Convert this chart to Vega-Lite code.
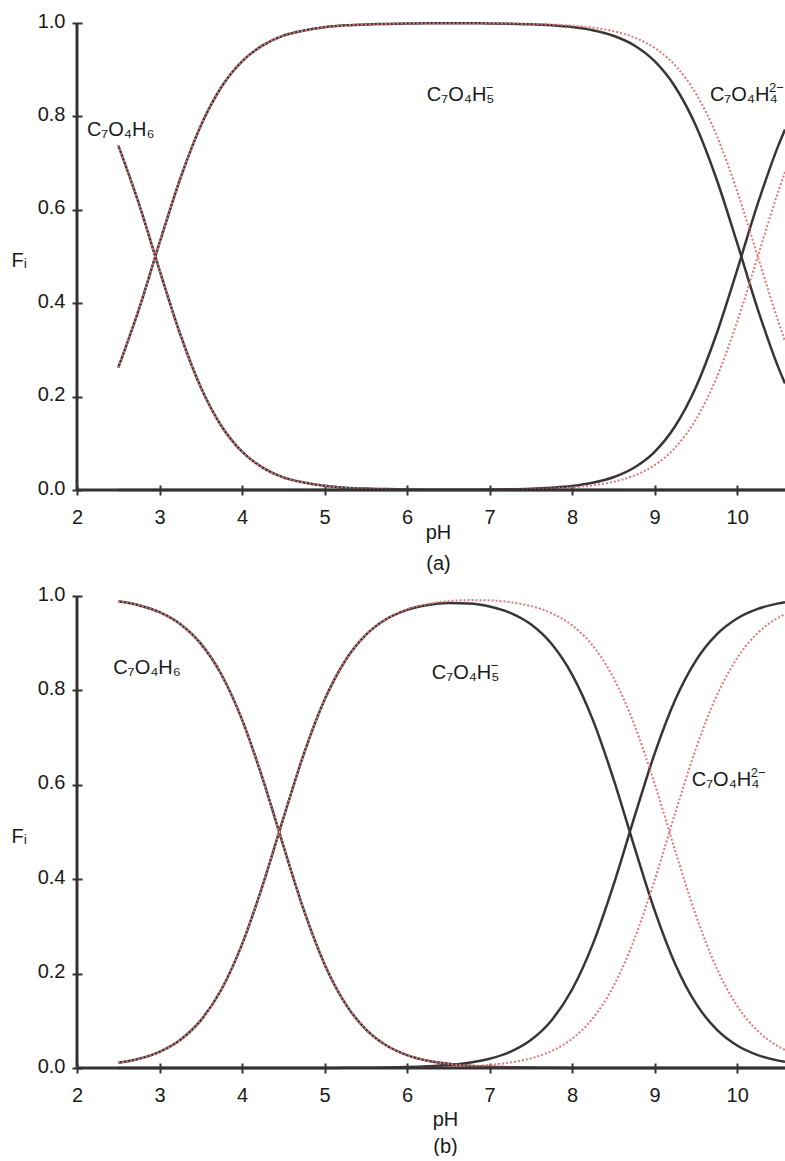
{
  "$schema": "https://vega.github.io/schema/vega-lite/v6.json",
  "background": "white",
  "padding": {"left": 11, "top": 11, "right": 0, "bottom": 0},
  "config": {
    "view": {"stroke": null},
    "font": "Liberation Sans",
    "axis": {
      "domain": false, "grid": false, "ticks": true, "tickSize": 10, "tickWidth": 2, "tickColor": "#333333",
      "offset": -5, "labelFont": "Liberation Sans", "labelFontSize": 20, "labelColor": "#1a1a1a",
      "titleFont": "Liberation Sans", "titleFontSize": 20, "titleFontWeight": "normal", "titleColor": "#1a1a1a",
      "labelFlush": false, "labelOverlap": false
    },
    "axisX": {"labelPadding": 12.5, "titleAlign": "center", "titleBaseline": "alphabetic"},
    "axisY": {"labelPadding": 7, "labelOffset": -2, "titleAngle": 0, "titleAlign": "left", "titleBaseline": "alphabetic", "titleX": -71}
  },
  "datasets": {
    "a": [
      {"ph": 2.5, "h2a": 0.738, "hab": 0.262, "ab": 0, "har": 0.262, "ar": 0},
      {"ph": 2.75, "h2a": 0.613, "hab": 0.387, "ab": 0, "har": 0.387, "ar": 0},
      {"ph": 3.0, "h2a": 0.471, "hab": 0.529, "ab": 0, "har": 0.529, "ar": 0},
      {"ph": 3.25, "h2a": 0.334, "hab": 0.666, "ab": 0, "har": 0.666, "ar": 0},
      {"ph": 3.5, "h2a": 0.22, "hab": 0.78, "ab": 0, "har": 0.78, "ar": 0},
      {"ph": 3.75, "h2a": 0.137, "hab": 0.863, "ab": 0, "har": 0.863, "ar": 0},
      {"ph": 4.0, "h2a": 0.082, "hab": 0.918, "ab": 0, "har": 0.918, "ar": 0},
      {"ph": 4.25, "h2a": 0.048, "hab": 0.952, "ab": 0, "har": 0.952, "ar": 0},
      {"ph": 4.5, "h2a": 0.027, "hab": 0.973, "ab": 0, "har": 0.973, "ar": 0},
      {"ph": 4.75, "h2a": 0.016, "hab": 0.984, "ab": 0, "har": 0.984, "ar": 0},
      {"ph": 5.0, "h2a": 0.009, "hab": 0.991, "ab": 0, "har": 0.991, "ar": 0},
      {"ph": 5.25, "h2a": 0.005, "hab": 0.995, "ab": 0, "har": 0.995, "ar": 0},
      {"ph": 5.5, "h2a": 0.003, "hab": 0.997, "ab": 0, "har": 0.997, "ar": 0},
      {"ph": 5.75, "h2a": 0.002, "hab": 0.998, "ab": 0, "har": 0.998, "ar": 0},
      {"ph": 6.0, "h2a": 0.001, "hab": 0.999, "ab": 0, "har": 0.999, "ar": 0},
      {"ph": 6.25, "h2a": 0.0005, "hab": 0.9995, "ab": 0, "har": 0.9995, "ar": 0},
      {"ph": 6.5, "h2a": 0.0003, "hab": 0.9995, "ab": 0.0002, "har": 0.9996, "ar": 0.0001},
      {"ph": 6.75, "h2a": 0.0002, "hab": 0.9993, "ab": 0.0005, "har": 0.9995, "ar": 0.0003},
      {"ph": 7.0, "h2a": 0, "hab": 0.9991, "ab": 0.0009, "har": 0.9994, "ar": 0.0006},
      {"ph": 7.25, "h2a": 0, "hab": 0.9984, "ab": 0.0016, "har": 0.999, "ar": 0.001},
      {"ph": 7.5, "h2a": 0, "hab": 0.9972, "ab": 0.0028, "har": 0.9982, "ar": 0.0018},
      {"ph": 7.75, "h2a": 0, "hab": 0.995, "ab": 0.005, "har": 0.9968, "ar": 0.0032},
      {"ph": 8.0, "h2a": 0, "hab": 0.9912, "ab": 0.0088, "har": 0.9944, "ar": 0.0056},
      {"ph": 8.25, "h2a": 0, "hab": 0.9844, "ab": 0.0156, "har": 0.9901, "ar": 0.0099},
      {"ph": 8.5, "h2a": 0, "hab": 0.9726, "ab": 0.0274, "har": 0.9825, "ar": 0.0175},
      {"ph": 8.75, "h2a": 0, "hab": 0.9523, "ab": 0.0477, "har": 0.9693, "ar": 0.0307},
      {"ph": 9.0, "h2a": 0, "hab": 0.9182, "ab": 0.0818, "har": 0.9468, "ar": 0.0532},
      {"ph": 9.25, "h2a": 0, "hab": 0.863, "ab": 0.137, "har": 0.9091, "ar": 0.0909},
      {"ph": 9.5, "h2a": 0, "hab": 0.78, "ab": 0.22, "har": 0.849, "ar": 0.151},
      {"ph": 9.75, "h2a": 0, "hab": 0.666, "ab": 0.334, "har": 0.76, "ar": 0.24},
      {"ph": 10.0, "h2a": 0, "hab": 0.529, "ab": 0.471, "har": 0.64, "ar": 0.36},
      {"ph": 10.25, "h2a": 0, "hab": 0.387, "ab": 0.613, "har": 0.5, "ar": 0.5},
      {"ph": 10.5, "h2a": 0, "hab": 0.262, "ab": 0.738, "har": 0.36, "ar": 0.64},
      {"ph": 10.58, "h2a": 0, "hab": 0.228, "ab": 0.772, "har": 0.319, "ar": 0.681}
    ],
    "b": [
      {"ph": 2.5, "h2a": 0.9889, "hab": 0.0111, "ab": 0, "har": 0.0111, "ar": 0},
      {"ph": 2.75, "h2a": 0.9804, "hab": 0.0196, "ab": 0, "har": 0.0196, "ar": 0},
      {"ph": 3.0, "h2a": 0.9657, "hab": 0.0343, "ab": 0, "har": 0.0343, "ar": 0},
      {"ph": 3.25, "h2a": 0.9406, "hab": 0.0594, "ab": 0, "har": 0.0594, "ar": 0},
      {"ph": 3.5, "h2a": 0.8991, "hab": 0.1009, "ab": 0, "har": 0.1009, "ar": 0},
      {"ph": 3.75, "h2a": 0.8337, "hab": 0.1663, "ab": 0, "har": 0.1663, "ar": 0},
      {"ph": 4.0, "h2a": 0.7381, "hab": 0.2619, "ab": 0, "har": 0.2619, "ar": 0},
      {"ph": 4.25, "h2a": 0.6131, "hab": 0.3869, "ab": 0, "har": 0.3869, "ar": 0},
      {"ph": 4.5, "h2a": 0.4713, "hab": 0.5287, "ab": 0, "har": 0.5287, "ar": 0},
      {"ph": 4.75, "h2a": 0.3339, "hab": 0.666, "ab": 0.0001, "har": 0.6661, "ar": 0},
      {"ph": 5.0, "h2a": 0.2199, "hab": 0.78, "ab": 0.0002, "har": 0.7801, "ar": 0.0001},
      {"ph": 5.25, "h2a": 0.1368, "hab": 0.8629, "ab": 0.0003, "har": 0.8631, "ar": 0.0001},
      {"ph": 5.5, "h2a": 0.0818, "hab": 0.9176, "ab": 0.0006, "har": 0.918, "ar": 0.0002},
      {"ph": 5.75, "h2a": 0.0477, "hab": 0.9512, "ab": 0.0011, "har": 0.9519, "ar": 0.0004},
      {"ph": 6.0, "h2a": 0.0274, "hab": 0.9707, "ab": 0.0019, "har": 0.972, "ar": 0.0006},
      {"ph": 6.25, "h2a": 0.0155, "hab": 0.981, "ab": 0.0035, "har": 0.9832, "ar": 0.0012},
      {"ph": 6.5, "h2a": 0.0088, "hab": 0.985, "ab": 0.0062, "har": 0.9891, "ar": 0.0021},
      {"ph": 6.75, "h2a": 0.0049, "hab": 0.9841, "ab": 0.011, "har": 0.9913, "ar": 0.0037},
      {"ph": 7.0, "h2a": 0.0028, "hab": 0.9777, "ab": 0.0195, "har": 0.9907, "ar": 0.0065},
      {"ph": 7.25, "h2a": 0.0015, "hab": 0.9642, "ab": 0.0342, "har": 0.9869, "ar": 0.0116},
      {"ph": 7.5, "h2a": 0.0008, "hab": 0.9399, "ab": 0.0593, "har": 0.9787, "ar": 0.0204},
      {"ph": 7.75, "h2a": 0.0005, "hab": 0.8987, "ab": 0.1008, "har": 0.9637, "ar": 0.0358},
      {"ph": 8.0, "h2a": 0.0002, "hab": 0.8335, "ab": 0.1663, "har": 0.9378, "ar": 0.062},
      {"ph": 8.25, "h2a": 0.0001, "hab": 0.7381, "ab": 0.2619, "har": 0.8948, "ar": 0.1051},
      {"ph": 8.5, "h2a": 0, "hab": 0.6131, "ab": 0.3869, "har": 0.8272, "ar": 0.1728},
      {"ph": 8.75, "h2a": 0, "hab": 0.4713, "ab": 0.5287, "har": 0.7291, "ar": 0.2709},
      {"ph": 9.0, "h2a": 0, "hab": 0.3339, "ab": 0.6661, "har": 0.6021, "ar": 0.3979},
      {"ph": 9.25, "h2a": 0, "hab": 0.2199, "ab": 0.7801, "har": 0.4598, "ar": 0.5402},
      {"ph": 9.5, "h2a": 0, "hab": 0.1368, "ab": 0.8632, "har": 0.3237, "ar": 0.6763},
      {"ph": 9.75, "h2a": 0, "hab": 0.0818, "ab": 0.9182, "har": 0.2121, "ar": 0.7879},
      {"ph": 10.0, "h2a": 0, "hab": 0.0477, "ab": 0.9523, "har": 0.1315, "ar": 0.8685},
      {"ph": 10.25, "h2a": 0, "hab": 0.0274, "ab": 0.9726, "har": 0.0784, "ar": 0.9216},
      {"ph": 10.5, "h2a": 0, "hab": 0.0156, "ab": 0.9844, "har": 0.0457, "ar": 0.9543},
      {"ph": 10.58, "h2a": 0, "hab": 0.013, "ab": 0.987, "har": 0.0383, "ar": 0.9617}
    ],
    "labA": [
      {"ph": 2.12, "f": 0.758, "main": "C₇O₄H₆", "sup": ""},
      {"ph": 6.24, "f": 0.833, "main": "C₇O₄H₅", "sup": "−"},
      {"ph": 9.67, "f": 0.833, "main": "C₇O₄H₄", "sup": "2−"}
    ],
    "labB": [
      {"ph": 2.44, "f": 0.835, "main": "C₇O₄H₆", "sup": ""},
      {"ph": 6.3, "f": 0.824, "main": "C₇O₄H₅", "sup": "−"},
      {"ph": 9.45, "f": 0.597, "main": "C₇O₄H₄", "sup": "2−"}
    ]
  },
  "vconcat": [
    {
      "width": 708, "height": 467,
      "layer": [
        {
          "data": {"name": "a"},
          "transform": [{"fold": ["h2a", "hab", "ab"], "as": ["sp", "f"]}],
          "mark": {"type": "line", "color": "#3a3535", "strokeWidth": 2.5, "interpolate": "monotone"},
          "encoding": {
            "x": {"field": "ph", "type": "quantitative", "scale": {"domain": [2, 10.58], "nice": false, "zero": false},
                  "axis": {"values": [2, 3, 4, 5, 6, 7, 8, 9, 10], "format": "d", "title": ["pH", "(a)"], "titleX": 361, "titleY": 53, "titleLineHeight": 31}},
            "y": {"field": "f", "type": "quantitative", "scale": {"domain": [0, 1], "nice": false, "zero": false},
                  "axis": {"values": [0, 0.2, 0.4, 0.6, 0.8, 1.0], "format": ".1f", "title": "Fᵢ", "titleY": 243}},
            "detail": {"field": "sp"}
          }
        },
        {
          "data": {"name": "a"},
          "transform": [{"fold": ["h2a", "har", "ar"], "as": ["sp", "f"]}],
          "mark": {"type": "line", "color": "#e07878", "strokeWidth": 2, "strokeDash": [2, 2], "interpolate": "monotone"},
          "encoding": {
            "x": {"field": "ph", "type": "quantitative"},
            "y": {"field": "f", "type": "quantitative"},
            "detail": {"field": "sp"}
          }
        },
        {
          "data": {"values": [{}]},
          "mark": {"type": "rule", "color": "#333333", "strokeWidth": 3},
          "encoding": {"x": {"datum": 2}, "x2": {"datum": 10.58}, "y": {"datum": 0}}
        },
        {
          "data": {"values": [{}]},
          "mark": {"type": "rule", "color": "#333333", "strokeWidth": 3},
          "encoding": {"x": {"datum": 2}, "y": {"datum": 0}, "y2": {"datum": 1}}
        },
        {
          "data": {"name": "labA"},
          "mark": {"type": "text", "align": "left", "baseline": "alphabetic", "fontSize": 20, "color": "#1a1a1a"},
          "encoding": {"x": {"field": "ph", "type": "quantitative"}, "y": {"field": "f", "type": "quantitative"}, "text": {"field": "main"}}
        },
        {
          "data": {"name": "labA"},
          "mark": {"type": "text", "align": "left", "baseline": "alphabetic", "fontSize": 13, "dx": 59, "dy": -9, "color": "#1a1a1a"},
          "encoding": {"x": {"field": "ph", "type": "quantitative"}, "y": {"field": "f", "type": "quantitative"}, "text": {"field": "sup"}}
        }
      ]
    },
    {
      "width": 708, "height": 472,
      "layer": [
        {
          "data": {"name": "b"},
          "transform": [{"fold": ["h2a", "hab", "ab"], "as": ["sp", "f"]}],
          "mark": {"type": "line", "color": "#3a3535", "strokeWidth": 2.5, "interpolate": "monotone"},
          "encoding": {
            "x": {"field": "ph", "type": "quantitative", "scale": {"domain": [2, 10.58], "nice": false, "zero": false},
                  "axis": {"values": [2, 3, 4, 5, 6, 7, 8, 9, 10], "format": "d", "title": ["pH", "(b)"], "titleX": 368, "titleY": 62, "titleLineHeight": 27}},
            "y": {"field": "f", "type": "quantitative", "scale": {"domain": [0, 1], "nice": false, "zero": false},
                  "axis": {"values": [0, 0.2, 0.4, 0.6, 0.8, 1.0], "format": ".1f", "title": "Fᵢ", "titleY": 246}},
            "detail": {"field": "sp"}
          }
        },
        {
          "data": {"name": "b"},
          "transform": [{"fold": ["h2a", "har", "ar"], "as": ["sp", "f"]}],
          "mark": {"type": "line", "color": "#e07878", "strokeWidth": 2, "strokeDash": [2, 2], "interpolate": "monotone"},
          "encoding": {
            "x": {"field": "ph", "type": "quantitative"},
            "y": {"field": "f", "type": "quantitative"},
            "detail": {"field": "sp"}
          }
        },
        {
          "data": {"values": [{}]},
          "mark": {"type": "rule", "color": "#333333", "strokeWidth": 3},
          "encoding": {"x": {"datum": 2}, "x2": {"datum": 10.58}, "y": {"datum": 0}}
        },
        {
          "data": {"values": [{}]},
          "mark": {"type": "rule", "color": "#333333", "strokeWidth": 3},
          "encoding": {"x": {"datum": 2}, "y": {"datum": 0}, "y2": {"datum": 1}}
        },
        {
          "data": {"name": "labB"},
          "mark": {"type": "text", "align": "left", "baseline": "alphabetic", "fontSize": 20, "color": "#1a1a1a"},
          "encoding": {"x": {"field": "ph", "type": "quantitative"}, "y": {"field": "f", "type": "quantitative"}, "text": {"field": "main"}}
        },
        {
          "data": {"name": "labB"},
          "mark": {"type": "text", "align": "left", "baseline": "alphabetic", "fontSize": 13, "dx": 59, "dy": -9, "color": "#1a1a1a"},
          "encoding": {"x": {"field": "ph", "type": "quantitative"}, "y": {"field": "f", "type": "quantitative"}, "text": {"field": "sup"}}
        }
      ]
    }
  ],
  "spacing": 106,
  "bounds": "flush"
}
